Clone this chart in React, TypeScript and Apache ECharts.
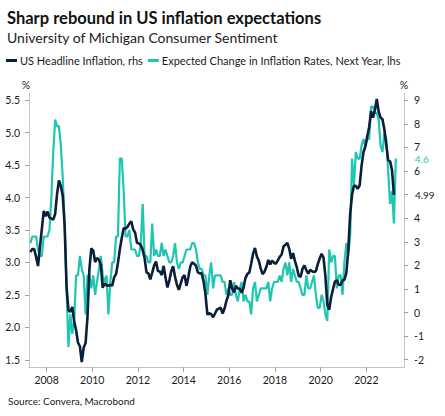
import React, { useEffect, useRef } from "react";
import * as echarts from "echarts";

// Monthly data, first point = April 2007
const START_YEAR = 2007;
const START_MONTH = 4;

// US Headline Inflation (CPI, % y/y) — right axis, Apr 2007 .. Mar 2023
const headlineInflation = [
  2.57, 2.69, 2.69, 2.36, 1.97, 2.76, 3.54, 4.31, 4.08,
  4.28, 4.03, 3.98, 3.94, 4.18, 5.02, 5.6, 5.37, 4.94, 3.66, 1.07, 0.09,
  0.03, 0.24, -0.38, -0.74, -1.28, -1.43, -2.1, -1.48, -1.29, -0.18, 1.84, 2.72,
  2.63, 2.14, 2.31, 2.24, 2.02, 1.05, 1.24, 1.15, 1.14, 1.17, 1.14, 1.5,
  1.63, 2.11, 2.68, 3.16, 3.57, 3.56, 3.63, 3.77, 3.87, 3.53, 3.39, 2.96,
  2.93, 2.87, 2.65, 2.3, 1.7, 1.66, 1.41, 1.69, 1.99, 2.16, 1.76, 1.74,
  1.59, 1.98, 1.47, 1.06, 1.36, 1.75, 1.96, 1.52, 1.18, 0.96, 1.24, 1.5,
  1.58, 1.13, 1.51, 1.95, 2.13, 2.07, 1.99, 1.7, 1.66, 1.66, 1.32, 0.76,
  -0.09, -0.03, -0.07, -0.2, -0.04, 0.12, 0.17, 0.2, -0.04, 0.17, 0.5, 0.73,
  1.37, 1.02, 0.85, 1.13, 1.02, 1.01, 0.84, 1.06, 1.46, 1.64, 1.69, 2.07,
  2.5, 2.74, 2.38, 2.2, 1.87, 1.63, 1.73, 1.94, 2.23, 2.04, 2.2, 2.11,
  2.07, 2.21, 2.36, 2.46, 2.8, 2.87, 2.95, 2.7, 2.28, 2.52, 2.18, 1.91,
  1.55, 1.52, 1.86, 2.0, 1.79, 1.65, 1.81, 1.75, 1.71, 1.76, 2.05, 2.29,
  2.49, 2.33, 1.54, 0.33, 0.12, 0.65, 0.99, 1.31, 1.37, 1.18, 1.17, 1.36,
  1.4, 1.68, 2.62, 4.16, 4.99, 5.39, 5.37, 5.25, 5.39, 6.22, 6.81, 7.04,
  7.48, 7.87, 8.54, 8.26, 8.58, 9.06, 8.52, 8.26, 8.2, 7.75, 7.11, 6.45,
  6.41, 6.04, 4.99,
];

// Expected change in inflation rates, next year (%) — left axis, Apr 2007 .. Apr 2023
const expectedInflation = [
  3.3, 3.4, 3.4, 3.4, 3.2, 3.1, 3.1, 3.4, 3.4,
  3.4, 3.5, 4.0, 4.7, 5.2, 5.1, 5.1, 4.8, 4.3, 3.6, 2.6, 1.7,
  2.2, 1.9, 2.1, 2.8, 2.8, 3.1, 2.9, 2.8, 2.2, 2.8, 2.8, 2.6,
  2.8, 2.5, 2.7, 2.9, 3.1, 2.8, 2.7, 2.8, 2.2, 2.7, 3.0, 3.0,
  3.4, 3.4, 4.6, 4.6, 4.1, 3.4, 3.4, 3.5, 3.2, 3.2, 3.2, 3.1,
  3.1, 3.3, 3.9, 3.1, 3.1, 3.0, 3.0, 3.6, 3.1, 3.2, 3.1, 3.1,
  3.3, 3.1, 3.2, 3.1, 3.0, 3.0, 3.1, 3.3, 3.0, 2.9, 3.0, 3.0,
  3.1, 3.2, 3.2, 3.2, 3.3, 3.3, 3.2, 3.0, 2.9, 2.9, 2.8, 2.8,
  2.5, 2.8, 3.0, 2.6, 2.8, 2.8, 2.8, 2.8, 2.7, 2.7, 2.5, 2.6,
  2.5, 2.5, 2.7, 2.5, 2.4, 2.6, 2.7, 2.4, 2.5, 2.4, 2.4, 2.2,
  2.6, 2.7, 2.4, 2.5, 2.6, 2.6, 2.6, 2.6, 2.7, 2.4, 2.6, 2.7,
  2.7, 2.7, 2.8, 2.7, 2.9, 3.0, 2.8, 3.0, 2.7, 2.9, 2.8, 2.7,
  2.7, 2.6, 2.5, 2.5, 2.8, 2.6, 2.6, 2.7, 2.8, 2.5, 2.3, 2.3,
  2.5, 2.4, 2.2, 2.1, 3.2, 3.0, 3.1, 3.1, 2.6, 2.8, 2.8, 2.5,
  3.0, 3.3, 3.1, 3.4, 4.6, 4.2, 4.7, 4.6, 4.6, 4.8, 4.9, 4.8,
  4.9, 4.9, 5.4, 5.4, 5.3, 5.3, 5.2, 4.8, 4.7, 5.0, 4.9, 4.4,
  3.9, 4.1, 3.6, 4.6,
];

const xTickYears = [2008, 2010, 2012, 2014, 2016, 2018, 2020, 2022];
const leftTicks = [1.5, 2.0, 2.5, 3.0, 3.5, 4.0, 4.5, 5.0, 5.5];
const rightTicks = [-2, -1, 0, 1, 2, 3, 4, 5, 6, 7, 8, 9];
const rightLabels = [-2, -1, 0, 1, 2, 3, 4, 6, 7, 8, 9];

const NAVY = "#0b1e3b";
const TEAL = "#1fc6b1";
const FONT = "Lato";

const monthPos = (i: number) => START_YEAR + (START_MONTH - 1 + i + 0.5) / 12;

export default function App() {
  const ref = useRef<HTMLDivElement>(null);
  useEffect(() => {
    if (!ref.current) return;
    const chart = echarts.init(ref.current, undefined, { renderer: "svg" });
    const navyData = headlineInflation.map((v, i) => [monthPos(i), v]);
    const tealData = expectedInflation.map((v, i) => [monthPos(i), v]);
    const axisColor = "#c4c4c4";
    chart.setOption({
      animation: false,
      textStyle: { fontFamily: FONT },
      grid: { left: 29, right: 41, top: 93, bottom: 49 },
      legend: {
        left: 6,
        top: 55,
        padding: 0,
        itemGap: 5,
        itemWidth: 11,
        itemHeight: 3,
        icon: "rect",
        data: ["US Headline Inflation, rhs", "Expected Change in Inflation Rates, Next Year, lhs"],
        textStyle: { fontFamily: FONT, fontSize: 11, color: "#1a1a1a", padding: [0, 0, 0, -2] },
      },
      xAxis: {
        type: "value",
        min: 2007.23,
        max: 2023.65,
        splitLine: { show: false },
        axisLine: { show: true, onZero: false, lineStyle: { color: axisColor } },
        axisTick: { show: true, length: 5, customValues: xTickYears, lineStyle: { color: "#a0a0a0" } },
        axisLabel: {
          customValues: xTickYears,
          formatter: (v: number) => String(Math.round(v)),
          fontFamily: FONT,
          fontSize: 10.5,
          color: "#1a1a1a",
          margin: 7,
        },
      },
      yAxis: [
        {
          type: "value",
          position: "left",
          min: 1.39,
          max: 5.61,
          splitLine: { show: false },
          axisLine: { show: true, onZero: false, lineStyle: { color: axisColor } },
          axisTick: { show: true, length: 4, customValues: leftTicks, lineStyle: { color: "#a0a0a0" } },
          axisLabel: {
            customValues: leftTicks,
            formatter: (v: number) => v.toFixed(1),
            fontFamily: FONT,
            fontSize: 10.5,
            color: "#1a1a1a",
            margin: 9,
          },
        },
        {
          type: "value",
          position: "right",
          min: -2.31,
          max: 9.31,
          splitLine: { show: false },
          axisLine: { show: true, onZero: false, lineStyle: { color: axisColor } },
          axisTick: { show: true, length: 4, customValues: rightTicks, lineStyle: { color: "#a0a0a0" } },
          axisLabel: {
            customValues: rightLabels,
            formatter: (v: number) => String(v),
            fontFamily: FONT,
            fontSize: 10.5,
            color: "#1a1a1a",
            margin: 10,
          },
        },
      ],
      series: [
        {
          name: "Expected Change in Inflation Rates, Next Year, lhs",
          type: "line",
          yAxisIndex: 0,
          data: tealData,
          showSymbol: false,
          color: TEAL,
          lineStyle: { color: TEAL, width: 2.2 },
          endLabel: {
            show: true,
            distance: 19,
            formatter: (p: any) => String(p.value[1]),
            color: TEAL,
            fontFamily: FONT,
            fontSize: 10,
          },
          z: 2,
        },
        {
          name: "US Headline Inflation, rhs",
          type: "line",
          yAxisIndex: 1,
          data: navyData,
          showSymbol: false,
          color: NAVY,
          lineStyle: { color: NAVY, width: 2.6 },
          endLabel: {
            show: true,
            distance: 21,
            formatter: (p: any) => p.value[1].toFixed(2),
            color: "#1a1a1a",
            fontFamily: FONT,
            fontSize: 10,
          },
          z: 3,
        },
      ],
      graphic: [
        {
          type: "text",
          left: 7,
          top: 9,
          style: { text: "Sharp rebound in US inflation expectations", fontFamily: FONT, fontSize: 16.5, fontWeight: "bold", fill: "#111" },
        },
        {
          type: "text",
          left: 7,
          top: 30,
          style: { text: "University of Michigan Consumer Sentiment", fontFamily: FONT, fontSize: 14, fill: "#222" },
        },
        {
          type: "text",
          x: 26,
          y: 85,
          style: { text: "%", fontFamily: FONT, fontSize: 10.5, fill: "#1a1a1a", align: "center", verticalAlign: "middle" },
        },
        {
          type: "text",
          x: 404,
          y: 85,
          style: { text: "%", fontFamily: FONT, fontSize: 10.5, fill: "#1a1a1a", align: "center", verticalAlign: "middle" },
        },
        {
          type: "text",
          x: 8,
          y: 401,
          style: { text: "Source: Convera, Macrobond", fontFamily: FONT, fontSize: 10, fill: "#1a1a1a", verticalAlign: "middle" },
        },
      ],
    });
    return () => chart.dispose();
  }, []);
  return (
    <div
      ref={ref}
      style={{ position: "fixed", left: 0, top: 0, width: 445, height: 416, background: "#fff" }}
    />
  );
}
